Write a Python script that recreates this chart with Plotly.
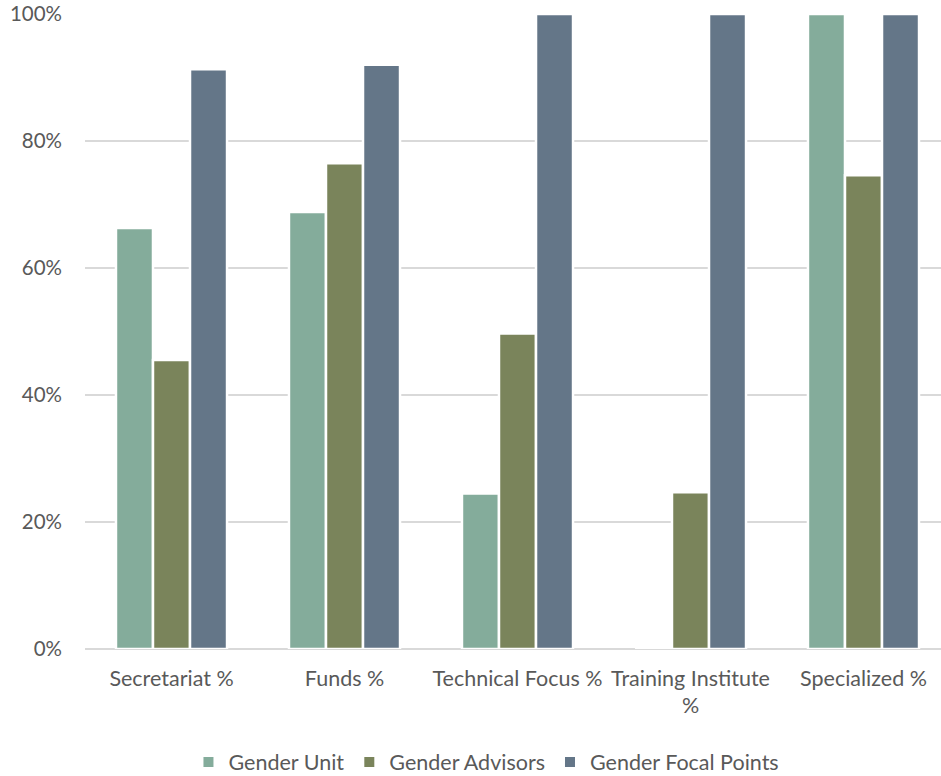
import plotly.graph_objects as go

# Share of entities with each type of gender mechanism, by entity type
categories = ["Secretariat %", "Funds %", "Technical Focus %", "Training Institute<br>%", "Specialized %"]
gender_unit = [0.663, 0.688, 0.245, 0.0, 1.0]
gender_advisors = [0.455, 0.765, 0.497, 0.247, 0.746]
gender_focal_points = [0.913, 0.920, 1.0, 1.0, 1.0]

series = [
    ("Gender Unit", gender_unit, "#84AC9B"),
    ("Gender Advisors", gender_advisors, "#7A845B"),
    ("Gender Focal Points", gender_focal_points, "#647688"),
]

font_family = "Lato, 'Open Sans', sans-serif"
text_color = "#595959"

fig = go.Figure()
for name, values, color in series:
    fig.add_trace(go.Bar(
        name=name,
        x=categories,
        y=values,
        marker=dict(color=color, line=dict(color="white", width=2.5)),
    ))

fig.update_layout(
    width=941,
    height=776,
    margin=dict(l=85, r=0, t=14, b=127, autoexpand=False),
    paper_bgcolor="white",
    plot_bgcolor="white",
    barmode="group",
    bargap=0.358,
    bargroupgap=0,
    font=dict(family=font_family, size=21, color=text_color),
    showlegend=True,
    legend=dict(
        orientation="h",
        x=0.469,
        xanchor="center",
        y=-0.178,
        yanchor="middle",
        font=dict(size=21.5, color=text_color),
        itemsizing="constant",
    ),
    xaxis=dict(
        range=[-0.5, 4.448],
        automargin=False,
        showgrid=False,
        showline=False,
        ticks="",
        ticklabelstandoff=14,
        tickfont=dict(size=21.5, color=text_color),
    ),
    yaxis=dict(
        range=[0, 1],
        dtick=0.2,
        tickformat=".0%",
        automargin=False,
        showgrid=True,
        gridcolor="#D9D9D9",
        gridwidth=2,
        zeroline=True,
        zerolinecolor="#D9D9D9",
        zerolinewidth=2,
        showline=False,
        ticks="",
        ticklabelstandoff=22,
        tickfont=dict(size=20.5, color=text_color),
    ),
)

fig.write_html("out.html")
